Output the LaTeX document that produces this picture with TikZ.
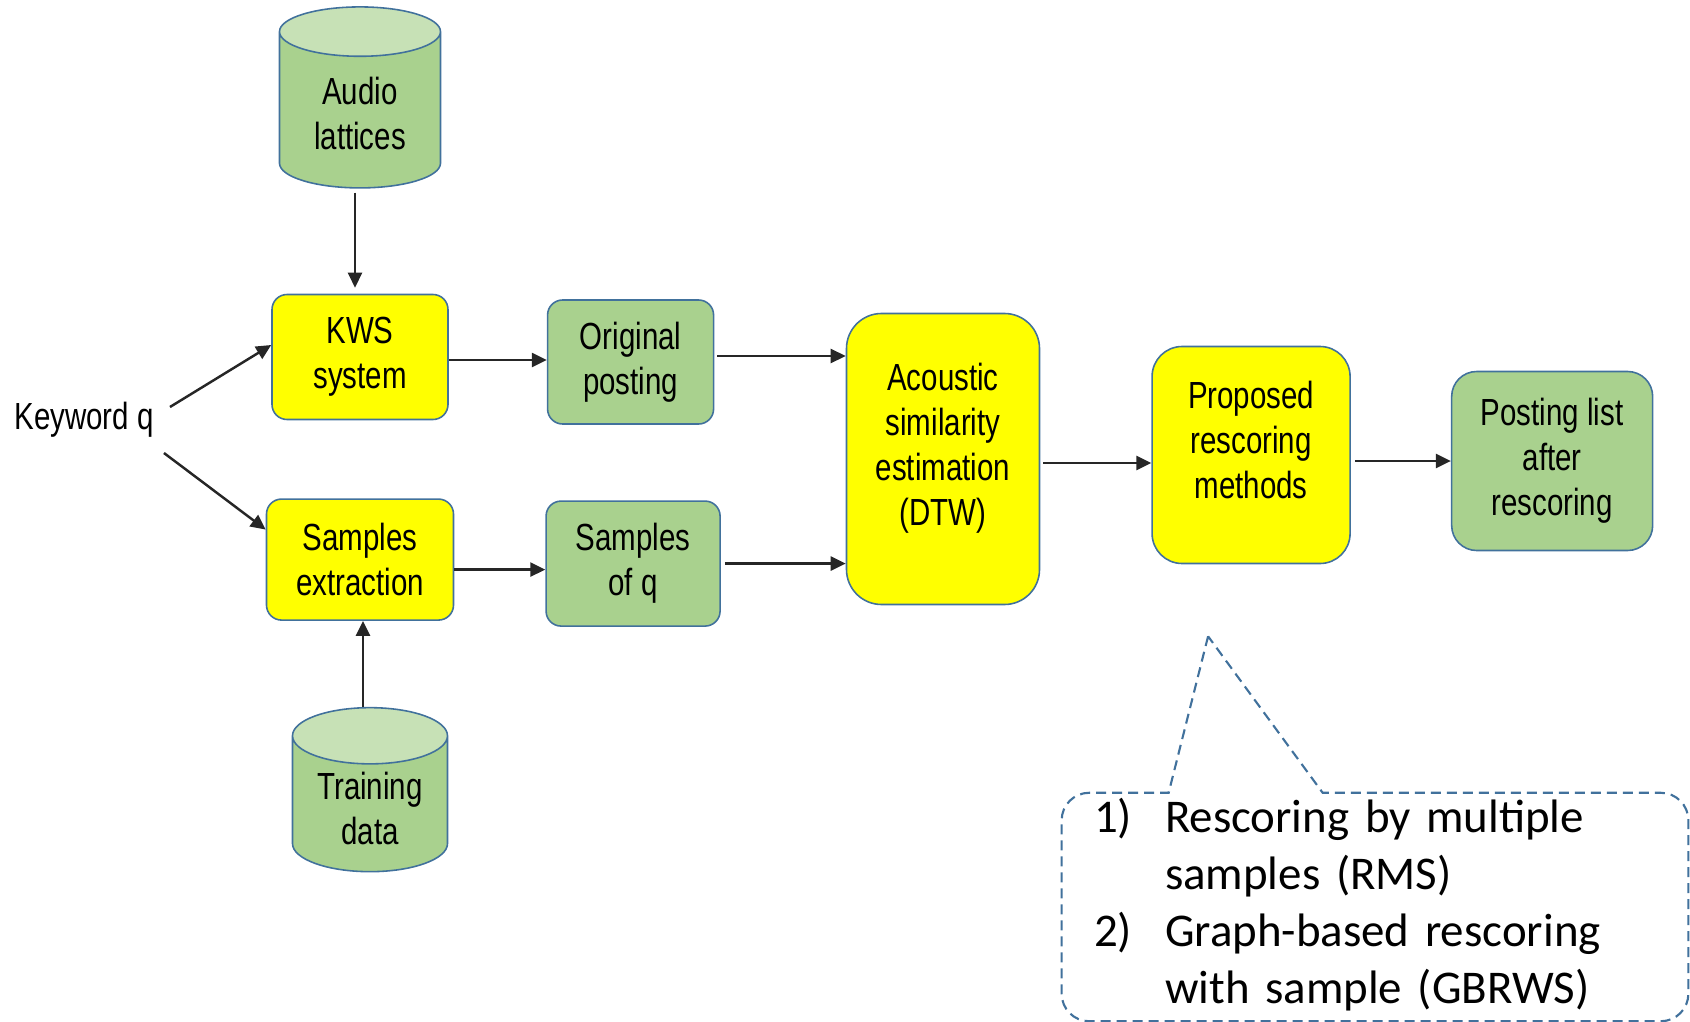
\documentclass[tikz,border=0pt]{standalone}
\usepackage{fontspec}
\setmainfont{Liberation Sans}
\newfontfamily\boxfont[FakeStretch=0.78]{Liberation Sans}
\newfontfamily\notefont{Carlito}
\usepackage{xcolor}
\definecolor{BoxLine}{RGB}{65,113,156}
\definecolor{FillGreen}{RGB}{169,209,142}
\definecolor{FillGreenTop}{RGB}{199,225,182}
\definecolor{FillYellow}{RGB}{255,255,0}
\usepackage{tikz}
\usetikzlibrary{
  shapes, shapes.geometric,
  arrows.meta,
  positioning, calc
}
\tikzset{
  % Rounded process box
  rbox/.style={
    rectangle, rounded corners=0.3cm,
    draw=BoxLine, line width=0.9pt,
    fill=FillYellow,
    align=center,
    font=\boxfont\fontsize{21.5}{25.6}\selectfont,
    inner sep=2pt
  },
  rbox yellow/.style={rbox},
  rbox green/.style={rbox, fill=FillGreen},
  % Data store
  dbcyl/.style={
    cylinder, shape border rotate=90, aspect=0.5,
    draw=BoxLine, line width=0.9pt,
    cylinder uses custom fill,
    cylinder body fill=FillGreen, cylinder end fill=FillGreenTop,
    align=center, font=\boxfont\fontsize{21.5}{25.6}\selectfont,
    inner sep=2pt
  },
  % Plain input label
  kwtext/.style={font=\boxfont\fontsize{21.5}{25.6}\selectfont, inner sep=0pt},
  % Note box for the rescoring methods
  notebox/.style={
    rectangle, text width=11.24cm, minimum height=4.52cm,
    inner xsep=0.64cm, inner ysep=0pt, align=left,
    font=\notefont\fontsize{26.7}{32.4}\selectfont
  },
  noteline/.style={draw=BoxLine, line width=1.2pt, dash pattern=on 0.2cm off 0.12cm},
  % Arrows
  arr/.style={-{Triangle[length=0.3cm,width=0.28cm]}, line width=1.4pt, black!85},
}

\begin{document}
\begin{tikzpicture}

  \useasboundingbox (0,0) rectangle (33.8,-20.44);

  \node[rbox yellow, minimum width=3.52cm, minimum height=2.5cm]
    (kws) at (7.20,-7.14) {KWS\\system};

  \node[dbcyl, minimum width=3.22cm, minimum height=3.62cm, above=2.1cm of kws]
    (audio) {Audio\\lattices};

  \node[rbox green, minimum width=3.32cm, minimum height=2.48cm,
        right=1.96cm of kws, yshift=-0.1cm]
    (orig) {Original\\posting};

  \node[rbox yellow, minimum width=3.74cm, minimum height=2.42cm, below=1.56cm of kws]
    (samp) {Samples\\extraction};

  \node[rbox green, minimum width=3.48cm, minimum height=2.5cm,
        right=1.82cm of samp, yshift=-0.08cm]
    (sq) {Samples\\of q};

  \node[dbcyl, minimum width=3.1cm, minimum height=3.28cm,
        below=1.72cm of samp, xshift=0.2cm]
    (train) {Training\\data};

  \node[kwtext] (kw) at (1.68,-8.40) {Keyword q};

  \node[rbox yellow, rounded corners=0.7cm, minimum width=3.86cm, minimum height=5.82cm,
        text depth=0.6cm]
    (dtw) at (18.86,-9.18) {Acoustic\\similarity\\estimation\\(DTW)};

  \node[rbox yellow, rounded corners=0.6cm, minimum width=3.96cm, minimum height=4.34cm,
        text depth=0.6cm, right=2.22cm of dtw, yshift=0.08cm]
    (prop) {Proposed\\rescoring\\methods};

  \node[rbox green, rounded corners=0.5cm, minimum width=4.02cm, minimum height=3.58cm,
        right=2.0cm of prop, yshift=-0.12cm]
    (post) {Posting list\\after\\rescoring};

  \node[notebox] (methods) at (27.5,-18.14) {%
    \begin{tabular}{@{}p{1.42cm}@{}l@{}}
      1) & Rescoring by multiple\\
         & samples (RMS)\\
      2) & Graph-based rescoring\\
         & with sample (GBRWS)
    \end{tabular}};

  \coordinate[below left=1.44cm and 0.86cm of prop.south] (tip);

  %% Arrows
  \draw[arr, shorten <=0.08cm, shorten >=0.12cm]
    ([xshift=-0.1cm]audio.south) -- ([xshift=-0.1cm]audio.south |- kws.north);
  \draw[arr] ([shift={(0.32cm,0.26cm)}]kw.east) -- ([yshift=0.24cm]kws.west);
  \draw[arr] ([shift={(0.2cm,-0.66cm)}]kw.east) -- ([yshift=0.6cm]samp.west);
  \draw[arr] ([yshift=-0.06cm]kws.east) -- ([yshift=-0.06cm]kws.east -| orig.west);
  \draw[arr] ([yshift=-0.2cm]samp.east) -- ([yshift=-0.2cm]samp.east -| sq.west);
  \draw[arr] ([xshift=-0.14cm]train.north) -- ([xshift=-0.14cm]train.north |- samp.south);
  \draw[arr, shorten <=0.06cm] ([yshift=0.12cm]orig.east) -- ([yshift=0.12cm]orig.east -| dtw.west);
  \draw[arr, shorten <=0.08cm] (sq.east) -- (sq.east -| dtw.west);
  \draw[arr, shorten <=0.06cm] ([yshift=-0.08cm]dtw.east) -- ([yshift=-0.08cm]dtw.east -| prop.west);
  \draw[arr, shorten <=0.08cm] (post.west -| prop.east) -- (post.west);

  %% Callout outline
  \draw[noteline] (tip) -- ([xshift=2.14cm]methods.north west)
    [rounded corners=0.55cm] -- (methods.north west) -- (methods.south west)
    -- (methods.south east) -- (methods.north east)
    [sharp corners] -- ([xshift=5.22cm]methods.north west) -- cycle;

\end{tikzpicture}
\end{document}
